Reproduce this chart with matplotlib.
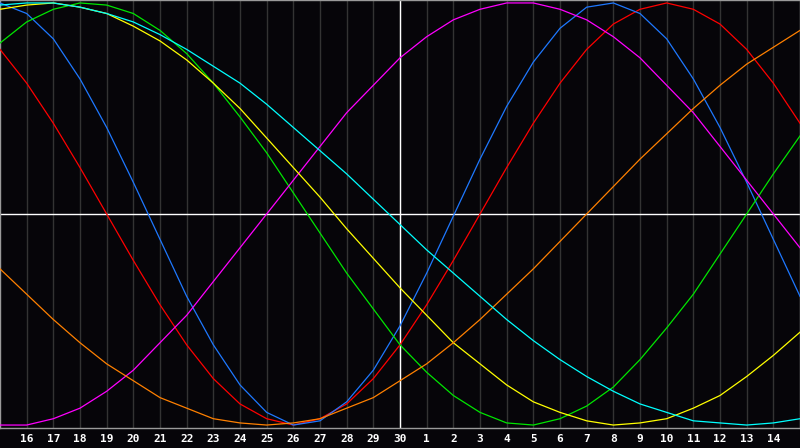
import matplotlib
matplotlib.use("Agg")
import matplotlib.pyplot as plt

# days shown (k = 0 .. 30 spans the whole plot width, labels at k = 1 .. 29)
day_labels = [16, 17, 18, 19, 20, 21, 22, 23, 24, 25, 26, 27, 28, 29, 30,
              1, 2, 3, 4, 5, 6, 7, 8, 9, 10, 11, 12, 13, 14]
k = list(range(31))

# cycle values in percent, read at every day line
emotional = [78, 62, 43, 22, 0, -22, -43, -62, -78, -90, -97, -100, -97, -90, -78, -62,
             -43, -22, 0, 22, 43, 62, 78, 90, 97, 100, 97, 90, 78, 62, 43]
physical = [100, 95, 83, 64, 41, 15, -12, -39, -62, -81, -94, -100, -98, -89, -74, -53,
            -28, -1, 26, 51, 72, 88, 98, 100, 95, 83, 64, 41, 15, -12, -39]
intellectual = [81, 91, 97, 100, 99, 95, 87, 76, 62, 46, 29, 10, -9, -28, -45, -62,
                -75, -86, -94, -99, -100, -97, -91, -82, -69, -54, -38, -19, 0, 19, 37]
intuition = [-100, -100, -97, -92, -84, -74, -61, -48, -32, -16, 0, 16, 32, 48, 61, 74,
             84, 92, 97, 100, 100, 97, 92, 84, 74, 61, 48, 32, 16, 0, -16]
aesthetic = [97, 99, 100, 98, 95, 89, 82, 73, 62, 50, 36, 22, 8, -7, -21, -35,
             -48, -61, -71, -81, -89, -94, -98, -100, -99, -97, -92, -86, -77, -67, -56]
awareness = [-26, -38, -50, -61, -71, -79, -87, -92, -97, -99, -100, -99, -97, -92, -87, -79,
             -71, -61, -50, -38, -26, -13, 0, 13, 26, 38, 50, 61, 71, 79, 87]
spiritual = [99, 100, 100, 98, 95, 91, 85, 78, 70, 62, 52, 41, 30, 19, 7, -5,
             -17, -28, -39, -50, -60, -69, -77, -84, -90, -94, -98, -99, -100, -99, -97]

series = [
    (emotional, '#ff0000'),
    (physical, '#1e78ff'),
    (intellectual, '#00e600'),
    (intuition, '#ff00ff'),
    (aesthetic, '#ffff00'),
    (awareness, '#ff8000'),
    (spiritual, '#00ffff'),
]

bg = '#060509'
fig = plt.figure(figsize=(8, 4.48), dpi=100, facecolor=bg)
ax = fig.add_axes([0, 20 / 448, 1, 1 - 20 / 448])  # leave a strip for day labels
ax.set_facecolor(bg)

# day grid
for i in range(1, 30):
    ax.axvline(i, color='#333333', linewidth=1, zorder=1)
ax.axvline(15, color='white', linewidth=1, zorder=2)
ax.axhline(0, color='white', linewidth=1, zorder=2)

for values, color in series:
    ax.plot(k, values, color=color, linewidth=0.9, zorder=3)

ax.set_xlim(0, 30)
ax.set_ylim(-101.4, 101.4)
ax.set_xticks(range(1, 30))
ax.set_xticklabels([str(d) for d in day_labels], color='white',
                   fontfamily='DejaVu Sans Mono', fontweight='bold', fontsize=8)
ax.set_yticks([])
ax.tick_params(axis='x', length=0, pad=4)
for sp in ax.spines.values():
    sp.set_color('#9a9a9a')
    sp.set_linewidth(1)

fig.savefig('out.png', dpi=100, facecolor=bg)
